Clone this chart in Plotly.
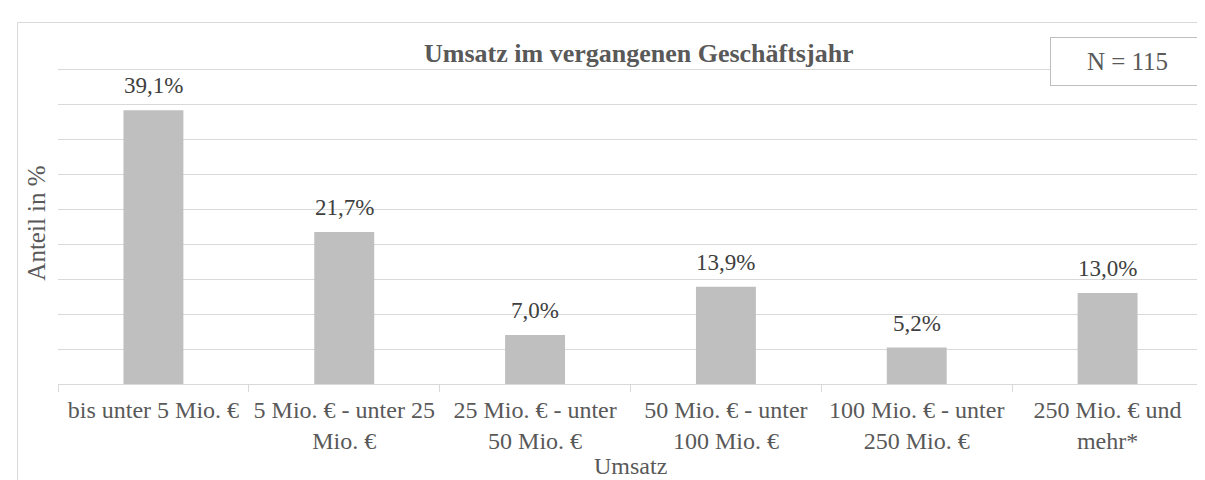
import plotly.graph_objects as go

categories = [
    "bis unter 5 Mio. €",
    "5 Mio. € - unter 25<br>Mio. €",
    "25 Mio. € - unter<br>50 Mio. €",
    "50 Mio. € - unter<br>100 Mio. €",
    "100 Mio. € - unter<br>250 Mio. €",
    "250 Mio. € und<br>mehr*",
]
values = [39.1, 21.7, 7.0, 13.9, 5.2, 13.0]
title_text = "Umsatz im vergangenen Geschäftsjahr"
n_text = "N = 115"
x_title = "Umsatz"
y_title = "Anteil in %"

W, H = 1205, 480
L, R, T, B = 50, 10, 54, 104
PW, PH = W - L - R, H - T - B

def px(x):
    return (x - L) / PW

def py(y):
    return (H - B - y) / PH

FONT = "Liberation Serif, Times New Roman, serif"
TXT = "#595959"

fig = go.Figure()
fig.add_trace(go.Bar(
    x=categories, y=values,
    marker=dict(color="#BFBFBF", line=dict(width=0)),
    hoverinfo="skip",
))

annotations = []
for c, v in zip(categories, values):
    annotations.append(dict(
        x=c, y=v, xref="x", yref="y",
        text=(f"{v:.1f}%").replace(".", ","),
        showarrow=False, yanchor="bottom", yshift=10,
        font=dict(family=FONT, size=23, color="#404040"),
    ))

annotations.append(dict(
    x=px(631), y=py(62), xref="paper", yref="paper",
    text=f"<b>{title_text}</b>", showarrow=False,
    xanchor="center", yanchor="bottom",
    font=dict(family=FONT, size=26, color=TXT),
))
annotations.append(dict(
    x=px(1119.5), y=py(53.5), xref="paper", yref="paper",
    text=n_text, showarrow=False, xanchor="center", yanchor="middle",
    width=153, height=47, borderpad=0, borderwidth=1,
    bordercolor="#BFBFBF", bgcolor="white",
    font=dict(family=FONT, size=25, color=TXT),
))
annotations.append(dict(
    x=0.5, y=py(473), xref="paper", yref="paper",
    text=x_title, showarrow=False, xanchor="center", yanchor="bottom",
    font=dict(family=FONT, size=24, color=TXT),
))

fig.update_layout(
    width=W, height=H,
    margin=dict(l=L, r=R, t=T, b=B, pad=0),
    paper_bgcolor="white", plot_bgcolor="white",
    showlegend=False,
    bargap=0.686,
    annotations=annotations,
    font=dict(family=FONT, color=TXT),
    shapes=[dict(
        type="rect", xref="paper", yref="paper",
        x0=px(9.5), x1=px(1197), y0=py(495), y1=py(14.5),
        line=dict(color="#D9D9D9", width=1), layer="below",
    )],
)
fig.update_xaxes(
    type="category",
    showline=True, linecolor="#D9D9D9", linewidth=1,
    ticks="outside", tickson="boundaries", ticklen=7, tickcolor="#D9D9D9",
    ticklabelstandoff=4,
    tickfont=dict(family=FONT, size=24, color=TXT),
    showgrid=False,
    automargin=False,
)
fig.update_yaxes(
    range=[0, 46], dtick=5, tick0=0,
    showticklabels=False, showgrid=True, gridcolor="#D9D9D9", gridwidth=1,
    zeroline=False, showline=False,
    title=dict(text=y_title, font=dict(family=FONT, size=25, color=TXT), standoff=4),
    automargin=False,
)

fig.write_html("out.html")
